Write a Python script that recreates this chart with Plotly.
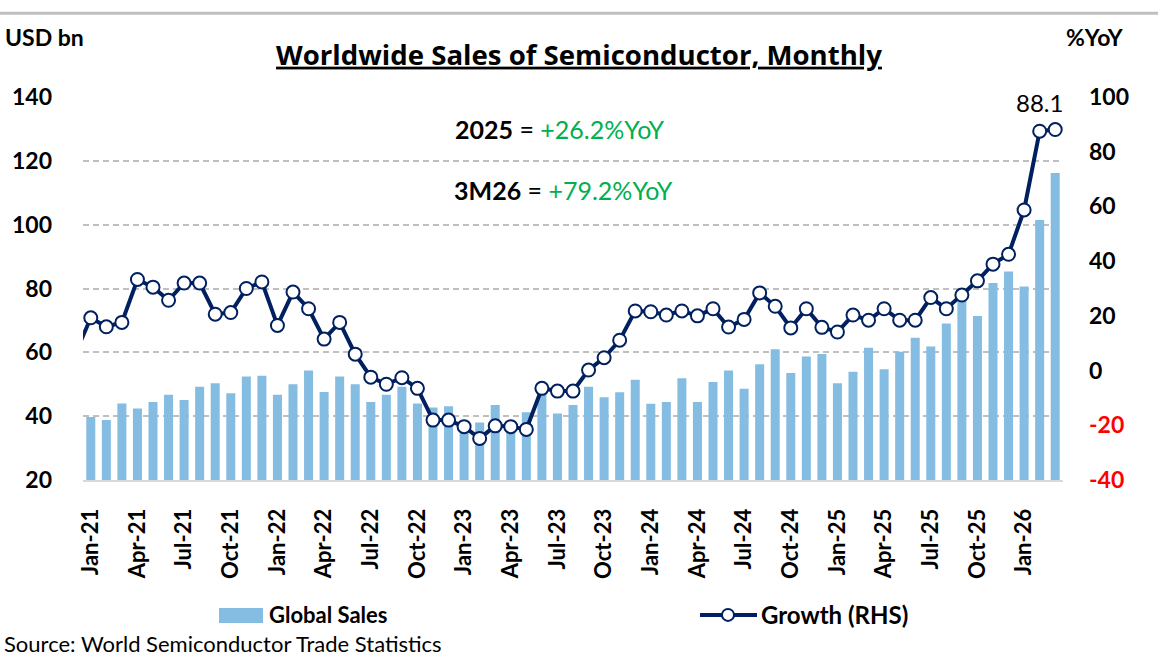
import pandas as pd
import plotly.graph_objects as go

# --- data ---
months = pd.date_range("2021-01-01", "2026-03-01", freq="MS").strftime("%b-%y").tolist()

sales = [39.7, 38.8, 44.0, 42.4, 44.4, 46.7, 45.1, 49.2, 50.3, 47.2, 52.4, 52.7,
         46.7, 50.0, 54.3, 47.6, 52.4, 50.0, 44.4, 46.7, 49.2, 44.0, 42.7, 43.1,
         38.5, 38.0, 43.5, 37.8, 41.2, 47.2, 40.8, 43.5, 49.2, 45.9, 47.5, 51.4,
         43.9, 44.4, 51.9, 44.4, 50.7, 54.3, 48.6, 56.3, 61.0, 53.5, 58.7, 59.5,
         50.3, 53.9, 61.4, 54.7, 60.2, 64.6, 61.8, 69.0, 76.2, 71.4, 81.7, 85.3,
         80.6, 101.5, 116.2]

growth = [19.3, 16.0, 17.6, 33.3, 30.5, 25.7, 32.0, 32.0, 20.6, 21.2, 30.0, 32.4,
          16.5, 28.7, 22.6, 11.5, 17.6, 6.0, -2.4, -5.0, -2.6, -6.5, -18.1, -18.1,
          -20.5, -24.8, -20.2, -20.5, -21.5, -6.5, -7.5, -7.5, 0.2, 4.7, 11.1, 21.8,
          21.5, 20.3, 21.8, 20.0, 22.6, 15.9, 18.7, 28.4, 23.5, 15.6, 22.6, 15.8,
          14.1, 20.3, 18.4, 22.6, 18.4, 18.4, 26.7, 22.6, 27.6, 32.8, 38.9, 42.5,
          58.7, 87.5, 88.1]
growth_dec20 = 6.0  # previous month, only the clipped line stub shows

left_ticks = [20, 40, 60, 80, 100, 120, 140]
right_ticks = [-40, -20, 0, 20, 40, 60, 80, 100]

BAR = "#85BCE2"
NAVY = "#002060"
GREEN = "#00B050"
FONT = "Lato"

x = list(range(len(months)))
tick_idx = x[::3]
tick_text = [months[i] for i in tick_idx]


def px(xp):
    return (xp - 83) / 980


def py(yp):
    return (480 - yp) / 383.3


fig = go.Figure()
fig.add_trace(go.Bar(x=x, y=sales, name="Global Sales", marker_color=BAR,
                     marker_line_width=0, width=0.58, yaxis="y"))
fig.add_trace(go.Scatter(x=[-1] + x, y=[growth_dec20] + growth, name="Growth (RHS)",
                         mode="lines+markers", yaxis="y2",
                         line=dict(color=NAVY, width=4),
                         marker=dict(size=13, color="white", line=dict(color=NAVY, width=2))))

right_text = [f"<span style='color:#FF0000'>{v}</span>" if v < 0 else str(v) for v in right_ticks]
tick_font = dict(family=FONT, size=23, color="black", weight="bold")

fig.update_layout(
    width=1158, height=656, showlegend=False,
    paper_bgcolor="white", plot_bgcolor="white",
    margin=dict(l=83, r=95, t=97, b=176),
    font=dict(family=FONT, color="black"),
    title=dict(text="Worldwide Sales of Semiconductor, Monthly", x=0.5, xanchor="center",
               y=1 - 55 / 656, yanchor="middle",
               font=dict(family="Open Sans", size=27.6, weight="bold", color="black",
                         lineposition="under")),
    xaxis=dict(range=[-0.5, 62.5], tickvals=tick_idx, ticktext=tick_text, tickangle=-90,
               tickfont=dict(family=FONT, size=22, color="black", weight="bold"),
               ticklabelstandoff=18, showgrid=False, zeroline=False,
               showline=True, linecolor="#D9D9D9", linewidth=2, ticks=""),
    yaxis=dict(range=[20, 140], tickvals=left_ticks, tickfont=tick_font,
               ticklabelstandoff=30, showgrid=True, gridcolor="#BFBFBF", gridwidth=1.5,
               griddash="6px,4px", zeroline=False, showline=False),
    yaxis2=dict(range=[-40, 100], overlaying="y", side="right", tickvals=right_ticks,
                ticktext=right_text, tickfont=tick_font, ticklabelstandoff=25,
                showgrid=False, zeroline=False, showline=False),
)

# top rule
fig.add_shape(type="line", xref="paper", yref="paper", x0=px(0), x1=px(1158),
              y0=py(13), y1=py(13), line=dict(color="#BFBFBF", width=3))

ann = [
    dict(text="<b>USD bn</b>", x=px(3), y=py(37), xanchor="left", font=dict(size=23)),
    dict(text="<b>%YoY</b>", x=px(1064), y=py(37), xanchor="left", font=dict(size=23)),
    dict(text=f"<b>2025</b> = <span style='color:{GREEN}'>+26.2%YoY</span>",
         x=px(560), y=py(129), xanchor="center", font=dict(size=25)),
    dict(text=f"<b>3M26</b> = <span style='color:{GREEN}'>+79.2%YoY</span>",
         x=px(563), y=py(190), xanchor="center", font=dict(size=25)),
    dict(text="<b>Global Sales</b>", x=px(267), y=py(615), xanchor="left", font=dict(size=22)),
    dict(text="<b>Growth (RHS)</b>", x=px(759), y=py(615), xanchor="left", font=dict(size=24)),
    dict(text="Source: World Semiconductor Trade Statistics", x=px(2), y=py(644),
         xanchor="left", font=dict(size=22)),
]
for a in ann:
    fig.add_annotation(xref="paper", yref="paper", yanchor="middle", showarrow=False, **a)

fig.add_annotation(x=62, y=growth[-1], xref="x", yref="y2", text=f"{growth[-1]:.1f}",
                   showarrow=False, xanchor="right", yanchor="middle", xshift=10, yshift=27,
                   font=dict(family=FONT, size=24, color="black"))

# legend keys
fig.add_shape(type="rect", xref="paper", yref="paper", x0=px(219), x1=px(263),
              y0=py(623), y1=py(608), fillcolor=BAR, line_width=0)
fig.add_shape(type="line", xref="paper", yref="paper", x0=px(700), x1=px(757),
              y0=py(615), y1=py(615), line=dict(color=NAVY, width=4))
fig.add_shape(type="circle", xref="paper", yref="paper", x0=px(722), x1=px(734),
              y0=py(621), y1=py(609), fillcolor="white", line=dict(color=NAVY, width=2))

fig.write_html("out.html", config={"displayModeBar": False},
               post_script="document.body.style.margin='0';")
